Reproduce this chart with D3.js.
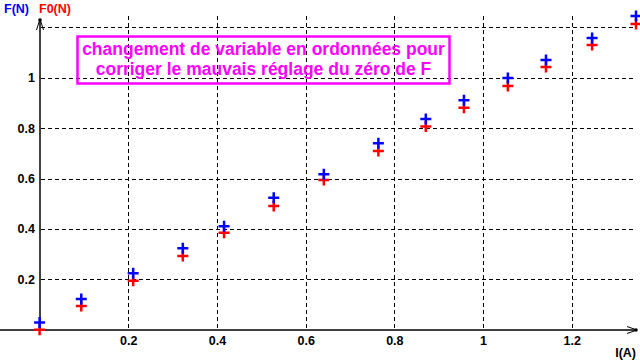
<!DOCTYPE html>
<html><head><meta charset="utf-8">
<script src="https://cdn.jsdelivr.net/npm/d3@7"></script>
<style>html,body{margin:0;padding:0;background:#fff;}svg{display:block;}</style>
</head><body>
<svg id="c" width="640" height="360"></svg>
<script>
const current = [0, 0.094, 0.211, 0.323, 0.416, 0.528, 0.641, 0.764, 0.871, 0.957, 1.056, 1.142, 1.246, 1.345];
const forceF = [0.029, 0.122, 0.224, 0.323, 0.411, 0.524, 0.617, 0.740, 0.836, 0.911, 0.999, 1.070, 1.158, 1.245];
const forceF0 = [0.0, 0.094, 0.194, 0.292, 0.385, 0.491, 0.594, 0.709, 0.806, 0.881, 0.967, 1.042, 1.130, 1.213];
const xTicks = [0.2, 0.4, 0.6, 0.8, 1, 1.2];
const yTicks = [0.2, 0.4, 0.6, 0.8, 1];
const yGrid = [0.2, 0.4, 0.6, 0.8, 1, 1.2];
const noteLines = ["changement de variable en ordonnées pour", "corriger le mauvais réglage du zéro de F"];

const svg = d3.select("#c");
const x = d3.scaleLinear().domain([0, 1.2]).range([39.6, 571.7]);
const y = d3.scaleLinear().domain([0, 1.2]).range([329.7, 27.3]);
const font = "'Liberation Sans', Arial, sans-serif";

// grid
const g = svg.append("g").attr("stroke", "#000").attr("stroke-width", 1).attr("stroke-dasharray", "4,3").attr("shape-rendering", "crispEdges");
g.selectAll("line.v").data(xTicks).join("line")
  .attr("x1", d => Math.round(x(d)) + 0.5).attr("x2", d => Math.round(x(d)) + 0.5)
  .attr("y1", 16).attr("y2", 330);
g.selectAll("line.h").data(yGrid).join("line")
  .attr("x1", 41).attr("x2", 636)
  .attr("y1", d => Math.round(y(d)) + 0.5).attr("y2", d => Math.round(y(d)) + 0.5);

// axes
const ax = svg.append("g").attr("stroke", "#000").attr("stroke-width", 1.5).attr("fill", "none");
ax.append("line").attr("x1", 0).attr("x2", 637).attr("y1", 330).attr("y2", 330);
ax.append("line").attr("x1", 40).attr("x2", 40).attr("y1", 19).attr("y2", 330);
ax.append("path").attr("d", "M36.5,30 L40,19 L43.5,30").attr("stroke-width", 1);
ax.append("path").attr("d", "M627,326.5 L637,330 L627,333.5").attr("stroke-width", 1);
svg.append("circle").attr("cx", 40).attr("cy", 20).attr("r", 1.8).attr("fill", "#000");
svg.append("circle").attr("cx", 636).attr("cy", 330).attr("r", 1.8).attr("fill", "#000");

// tick labels
svg.append("g").selectAll("text").data(yTicks).join("text")
  .attr("x", 35).attr("y", d => y(d) + 4.5).attr("text-anchor", "end")
  .attr("font-family", font).attr("font-weight", "bold").attr("font-size", 12.5)
  .text(d => d);
svg.append("g").selectAll("text").data(xTicks).join("text")
  .attr("x", d => x(d) + 0.5).attr("y", 345).attr("text-anchor", "middle")
  .attr("font-family", font).attr("font-weight", "bold").attr("font-size", 12.5)
  .text(d => d);

svg.append("text").attr("x", 636).attr("y", 357).attr("text-anchor", "end")
  .attr("font-family", font).attr("font-weight", "bold").attr("font-size", 12.5).text("I(A)");
svg.append("text").attr("x", 4).attr("y", 13).attr("fill", "#0000ff")
  .attr("font-family", font).attr("font-weight", "bold").attr("font-size", 12.5).text("F(N)");
svg.append("text").attr("x", 39).attr("y", 13).attr("fill", "#ff0000")
  .attr("font-family", font).attr("font-weight", "bold").attr("font-size", 12.5).text("F0(N)");

// note box
svg.append("rect").attr("x", 77.5).attr("y", 36.5).attr("width", 372).attr("height", 47)
  .attr("fill", "none").attr("stroke", "#ff00ff").attr("stroke-width", 2.5);
svg.append("g").selectAll("text").data(noteLines).join("text")
  .attr("x", 263.5).attr("y", (d, i) => 54.5 + i * 20).attr("text-anchor", "middle")
  .attr("fill", "#ff00ff").attr("font-family", font).attr("font-weight", "bold").attr("font-size", 17.5)
  .text(d => d);

// markers
function plus(cx, cy) { return `M${cx - 5.5},${cy} H${cx + 5.5} M${cx},${cy - 5.5} V${cy + 5.5}`; }
svg.append("g").selectAll("path").data(current.map((c, i) => [c, forceF0[i]])).join("path")
  .attr("d", d => plus(x(d[0]), y(d[1]))).attr("stroke", "#ff0000").attr("stroke-width", 2.5).attr("fill", "none");
svg.append("g").selectAll("path").data(current.map((c, i) => [c, forceF[i]])).join("path")
  .attr("d", d => plus(x(d[0]), y(d[1]))).attr("stroke", "#0000ff").attr("stroke-width", 2.5).attr("fill", "none");
</script>
</body></html>
